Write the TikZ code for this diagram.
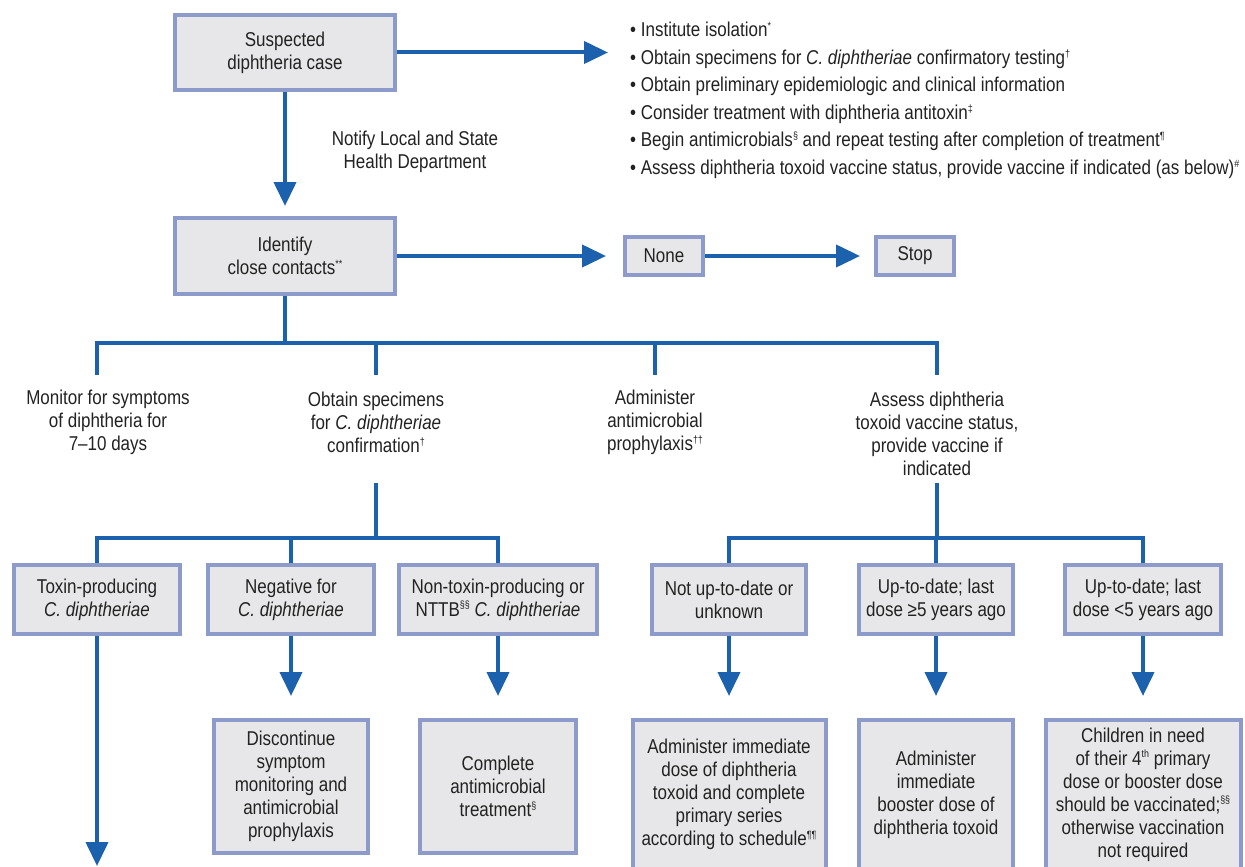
\documentclass[tikz,border=0pt]{standalone}
\usepackage{fontspec}
\setmainfont{Liberation Sans}[FakeStretch=0.85]
\usetikzlibrary{arrows.meta}
\definecolor{boxfill}{HTML}{E7E7E9}
\definecolor{boxline}{HTML}{8D9BCB}
\definecolor{flow}{HTML}{1B61AD}
\definecolor{ink}{HTML}{222222}
\newcommand{\fnm}[1]{\raisebox{0.7ex}{\fontsize{10.5}{10.5}\selectfont #1}}
\begin{document}
\begin{tikzpicture}[x=1pt,y=-1pt,
  font=\fontsize{20}{23}\selectfont, text=ink,
  cbox/.style={draw=boxline, fill=boxfill, line width=4pt, inner sep=0pt, align=center},
  conn/.style={draw=flow, line width=4pt},
  arr/.style={conn, -{Triangle[length=24pt,width=22pt]}},
  lbl/.style={align=center, inner sep=0pt, yshift=-2pt}]
\useasboundingbox (0,0) rectangle (1245,867);
\fill[white] (0,0) rectangle (1245,867);
\clip (0,0) rectangle (1245,867);

% top boxes
\node[cbox, minimum width=220pt, minimum height=74pt] (case) at (285,52.5) {Suspected\\diphtheria case};
\node[anchor=west, align=left, inner sep=0pt, yshift=-1.5pt, font=\fontsize{20}{27.5}\selectfont] (list) at (630,99)
 {• Institute isolation\fnm{*}\\
  • Obtain specimens for \textit{C. diphtheriae} confirmatory testing\fnm{†}\\
  • Obtain preliminary epidemiologic and clinical information\\
  • Consider treatment with diphtheria antitoxin\fnm{‡}\\
  • Begin antimicrobials\fnm{§} and repeat testing after completion of treatment\fnm{¶}\\
  • Assess diphtheria toxoid vaccine status, provide vaccine if indicated (as below)\fnm{\#}};
\node[lbl] (notify) at (415,150) {Notify Local and State\\Health Department};
\node[cbox, minimum width=220pt, minimum height=76pt] (contacts) at (285,256) {Identify\\close contacts\fnm{**}};
\node[cbox, minimum width=78pt, minimum height=38pt] (none) at (664,256) {None};
\node[cbox, minimum width=78pt, minimum height=38pt] (stop) at (915,256) {Stop};

% action texts
\node[lbl] (monitor) at (108,420.5) {Monitor for symptoms\\of diphtheria for\\7–10 days};
\node[lbl] (obtain) at (376,420.5) {Obtain specimens\\for \textit{C. diphtheriae}\\confirmation\fnm{†}};
\node[lbl] (admin) at (655,420.5) {Administer\\antimicrobial\\prophylaxis\fnm{††}};
\node[lbl] (assess) at (937,432) {Assess diphtheria\\toxoid vaccine status,\\provide vaccine if\\indicated};

% result boxes
\node[cbox, minimum width=166pt, minimum height=69pt] (toxin) at (97,599.5) {Toxin-producing\\\textit{C. diphtheriae}};
\node[cbox, minimum width=166pt, minimum height=69pt] (negative) at (291,599.5) {Negative for\\\textit{C. diphtheriae}};
\node[cbox, minimum width=198pt, minimum height=69pt] (nontox) at (498,599.5) {Non-toxin-producing or\\NTTB\fnm{§§} \textit{C. diphtheriae}};
\node[cbox, minimum width=154pt, minimum height=69pt] (notup) at (729,599.5) {Not up-to-date or\\unknown};
\node[cbox, minimum width=154pt, minimum height=69pt] (upge) at (936,599.5) {Up-to-date; last\\dose ≥5 years ago};
\node[cbox, minimum width=156pt, minimum height=69pt] (uplt) at (1143,599.5) {Up-to-date; last\\dose <5 years ago};

% action boxes
\node[cbox, minimum width=154pt, minimum height=133pt] (discont) at (291,786.5) {Discontinue\\symptom\\monitoring and\\antimicrobial\\prophylaxis};
\node[cbox, minimum width=156pt, minimum height=133pt] (complete) at (498,786.5) {Complete\\antimicrobial\\treatment\fnm{§}};
\node[cbox, minimum width=193pt, minimum height=149pt] (admindose) at (729,794.5) {Administer immediate\\dose of diphtheria\\toxoid and complete\\primary series\\according to schedule\fnm{¶¶}};
\node[cbox, minimum width=154pt, minimum height=149pt] (booster) at (936,794.5) {Administer\\immediate\\booster dose of\\diphtheria toxoid};
\node[cbox, minimum width=195pt, minimum height=149pt] (children) at (1143,794.5) {Children in need\\of their 4\fnm{th} primary\\dose or booster dose\\should be vaccinated;\fnm{§§}\\otherwise vaccination\\not required};

% top connectors
\draw[arr, shorten >=22pt] (case.east) -- (case.east -| list.west);
\draw[arr, shorten >=10pt] (case.south) -- (contacts.north);
\draw[arr, shorten >=17pt] (contacts.east) -- (none.west);
\draw[arr, shorten >=14pt] (none.east) -- (stop.west);

% first branching
\coordinate (j0) at (285,343);
\coordinate (t1) at (97,375);
\coordinate (t2) at (376,375);
\coordinate (t3) at (655,375);
\coordinate (t4) at (937,375);
\draw[conn] (contacts.south) -- (j0);
\draw[conn] (t1) |- (j0) -| (t4);
\draw[conn] (t2) -- (t2 |- j0);
\draw[conn] (t3) -- (t3 |- j0);

% specimen branching
\coordinate (o1) at (376,483);
\coordinate (j1) at (376,538);
\draw[conn] (o1) -- (j1);
\draw[conn] (toxin.north) |- (j1) -| (nontox.north);
\draw[conn] (negative.north) -- (negative.north |- j1);

% vaccine branching
\coordinate (o2) at (937,483);
\coordinate (j2) at (937,538);
\draw[conn] (o2) -- (j2);
\draw[conn] (notup.north) |- (j2) -| (uplt.north);
\draw[conn] (upge.north) -- (upge.north |- j2);

% down arrows
\coordinate (tend) at (97,866);
\draw[arr] (toxin.south) -- (tend);
\draw[arr, shorten >=22pt] (negative.south) -- (negative.south |- discont.north);
\draw[arr, shorten >=22pt] (nontox.south) -- (nontox.south |- complete.north);
\draw[arr, shorten >=22pt] (notup.south) -- (notup.south |- admindose.north);
\draw[arr, shorten >=22pt] (upge.south) -- (upge.south |- booster.north);
\draw[arr, shorten >=22pt] (uplt.south) -- (uplt.south |- children.north);
\end{tikzpicture}
\end{document}
